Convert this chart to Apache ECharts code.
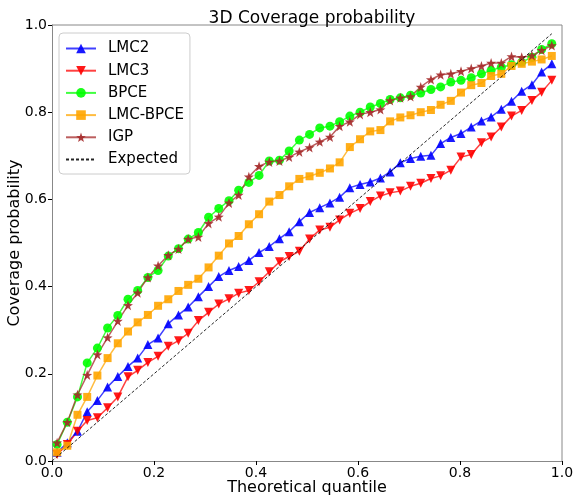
<!DOCTYPE html>
<html>
<head>
<meta charset="utf-8">
<script src="https://cdn.jsdelivr.net/npm/echarts@6/dist/echarts.min.js"></script>
<style>
  html, body { margin: 0; padding: 0; background: #fff; }
  #main { width: 574px; height: 497px; }
</style>
</head>
<body>
<div id="main"></div>
<script>
// theoretical quantiles (x)
const quantiles = [0.010, 0.030, 0.050, 0.069, 0.089, 0.109, 0.129, 0.149, 0.168, 0.188,
  0.208, 0.228, 0.248, 0.267, 0.287, 0.307, 0.327, 0.347, 0.366, 0.386,
  0.406, 0.426, 0.446, 0.465, 0.485, 0.505, 0.525, 0.545, 0.564, 0.584,
  0.604, 0.624, 0.644, 0.663, 0.683, 0.703, 0.723, 0.743, 0.762, 0.782,
  0.802, 0.822, 0.842, 0.861, 0.881, 0.901, 0.921, 0.941, 0.960, 0.980];

const lmc2 = [0.020, 0.042, 0.068, 0.113, 0.139, 0.170, 0.194, 0.217, 0.236, 0.267,
  0.282, 0.315, 0.335, 0.353, 0.377, 0.400, 0.423, 0.437, 0.446, 0.460,
  0.478, 0.492, 0.510, 0.526, 0.549, 0.570, 0.581, 0.592, 0.605, 0.627,
  0.634, 0.640, 0.649, 0.663, 0.684, 0.694, 0.699, 0.701, 0.728, 0.742,
  0.751, 0.766, 0.780, 0.789, 0.807, 0.825, 0.848, 0.863, 0.892, 0.911];

const lmc3 = [0.015, 0.038, 0.068, 0.093, 0.099, 0.122, 0.147, 0.193, 0.208, 0.226,
  0.240, 0.263, 0.276, 0.293, 0.322, 0.341, 0.360, 0.372, 0.385, 0.391,
  0.411, 0.434, 0.457, 0.469, 0.481, 0.509, 0.530, 0.536, 0.553, 0.568,
  0.579, 0.595, 0.608, 0.615, 0.619, 0.630, 0.637, 0.648, 0.654, 0.667,
  0.697, 0.703, 0.730, 0.743, 0.766, 0.791, 0.804, 0.827, 0.846, 0.873];

const bpce = [0.038, 0.089, 0.147, 0.225, 0.259, 0.305, 0.334, 0.371, 0.391, 0.421,
  0.437, 0.470, 0.487, 0.509, 0.524, 0.559, 0.579, 0.597, 0.621, 0.639,
  0.655, 0.688, 0.690, 0.711, 0.736, 0.749, 0.764, 0.768, 0.778, 0.791,
  0.800, 0.812, 0.820, 0.829, 0.833, 0.839, 0.844, 0.852, 0.858, 0.869,
  0.873, 0.879, 0.888, 0.896, 0.903, 0.909, 0.915, 0.926, 0.944, 0.957];

const lmcBpce = [0.020, 0.035, 0.106, 0.147, 0.196, 0.236, 0.270, 0.297, 0.318, 0.335,
  0.356, 0.371, 0.390, 0.404, 0.418, 0.444, 0.471, 0.499, 0.516, 0.543,
  0.566, 0.595, 0.610, 0.630, 0.647, 0.653, 0.661, 0.671, 0.685, 0.720,
  0.738, 0.756, 0.759, 0.779, 0.788, 0.793, 0.800, 0.805, 0.817, 0.826,
  0.845, 0.862, 0.867, 0.883, 0.888, 0.906, 0.911, 0.916, 0.921, 0.929];

const igp = [0.042, 0.089, 0.152, 0.197, 0.244, 0.283, 0.321, 0.357, 0.386, 0.421,
  0.448, 0.472, 0.486, 0.509, 0.514, 0.545, 0.560, 0.592, 0.610, 0.652,
  0.676, 0.686, 0.688, 0.697, 0.709, 0.719, 0.732, 0.743, 0.768, 0.778,
  0.795, 0.800, 0.806, 0.827, 0.833, 0.836, 0.858, 0.875, 0.886, 0.888,
  0.894, 0.900, 0.906, 0.913, 0.913, 0.928, 0.926, 0.930, 0.942, 0.953];

const expectedX = [0, 0.98];
const expectedY = [0, 0.98];

const tickLabels = ['0.0', '0.2', '0.4', '0.6', '0.8', '1.0'];

const font = 'DejaVu Sans';
const star = 'path://M0,-10 L2.35,-3.24 L9.51,-3.09 L3.8,1.24 L5.88,8.09 L0,4 L-5.88,8.09 L-3.8,1.24 L-9.51,-3.09 L-2.35,-3.24 Z';

function pairs(xs, ys) {
  return xs.map((x, i) => [x, ys[i]]);
}

function markerSeries(name, ys, color, symbol, size, rotate) {
  return {
    name: name,
    type: 'line',
    data: pairs(quantiles, ys),
    symbol: symbol,
    symbolSize: size,
    symbolRotate: rotate || 0,
    showAllSymbol: true,
    lineStyle: { color: color, width: 1.5, opacity: 0.75 },
    itemStyle: { color: color, opacity: 0.9 },
    emphasis: { disabled: true }
  };
}

const chartDom = document.getElementById('main');
const myChart = echarts.init(chartDom);

const tickFmt = v => tickLabels[Math.round(v * 5)] || '';

const option = {
  animation: false,
  title: {
    text: '3D Coverage probability',
    left: 307,
    top: 5,
    textAlign: 'center',
    textStyle: { fontFamily: font, fontSize: 17, fontWeight: 'normal', color: '#000' }
  },
  grid: { left: 52, right: 12, top: 25, bottom: 36, containLabel: false, outerBoundsMode: 'none' },
  legend: {
    orient: 'vertical',
    left: 59,
    top: 33,
    itemWidth: 30,
    itemHeight: 12,
    itemGap: 7.2,
    padding: [8, 6, 7, 6],
    borderColor: '#ccc',
    borderWidth: 1,
    borderRadius: 4,
    backgroundColor: 'rgba(255,255,255,0.8)',
    textStyle: { fontFamily: font, fontSize: 15, color: '#000', padding: [0, 0, 0, 7] },
    data: ['LMC2', 'LMC3', 'BPCE', 'LMC-BPCE', 'IGP',
      { name: 'Expected', itemStyle: { opacity: 0 } }]
  },
  xAxis: {
    type: 'value',
    min: 0, max: 1, interval: 0.2,
    name: 'Theoretical quantile',
    nameLocation: 'middle',
    nameGap: 19,
    nameMoveOverlap: false,
    nameTextStyle: { fontFamily: font, fontSize: 16, color: '#000' },
    axisLine: { show: true, onZero: false, lineStyle: { color: '#888', width: 1 } },
    axisTick: { show: true, length: 4, lineStyle: { color: '#000' } },
    axisLabel: { fontFamily: font, fontSize: 14, color: '#000', margin: 5, formatter: tickFmt },
    splitLine: { show: false }
  },
  yAxis: {
    type: 'value',
    min: 0, max: 1, interval: 0.2,
    name: 'Coverage probability',
    nameLocation: 'middle',
    nameGap: 29,
    nameMoveOverlap: false,
    nameTextStyle: { fontFamily: font, fontSize: 16, color: '#000' },
    axisLine: { show: true, onZero: false, lineStyle: { color: '#888', width: 1 } },
    axisTick: { show: true, length: 4, lineStyle: { color: '#000' } },
    axisLabel: { fontFamily: font, fontSize: 14, color: '#000', margin: 5, formatter: tickFmt },
    splitLine: { show: false }
  },
  series: [
    markerSeries('LMC2', lmc2, '#0000ff', 'triangle', 9),
    markerSeries('LMC3', lmc3, '#ff0000', 'triangle', 9, 180),
    markerSeries('BPCE', bpce, '#00ff00', 'circle', 9),
    markerSeries('LMC-BPCE', lmcBpce, '#ffa500', 'rect', 8),
    markerSeries('IGP', igp, '#a52a2a', star, 10),
    {
      name: 'Expected',
      type: 'line',
      data: pairs(expectedX, expectedY),
      symbol: 'none',
      lineStyle: { color: '#000', width: 1, type: [3, 2], opacity: 0.85 },
      itemStyle: { color: '#000' },
      emphasis: { disabled: true },
      z: 5
    }
  ],
  graphic: [
    // top and right frame lines of the plot box
    { type: 'line', shape: { x1: 52, y1: 25, x2: 562, y2: 25 }, style: { stroke: '#888', lineWidth: 1 }, silent: true },
    { type: 'line', shape: { x1: 562, y1: 25, x2: 562, y2: 461 }, style: { stroke: '#888', lineWidth: 1 }, silent: true }
  ]
};

option && myChart.setOption(option);
</script>
</body>
</html>
